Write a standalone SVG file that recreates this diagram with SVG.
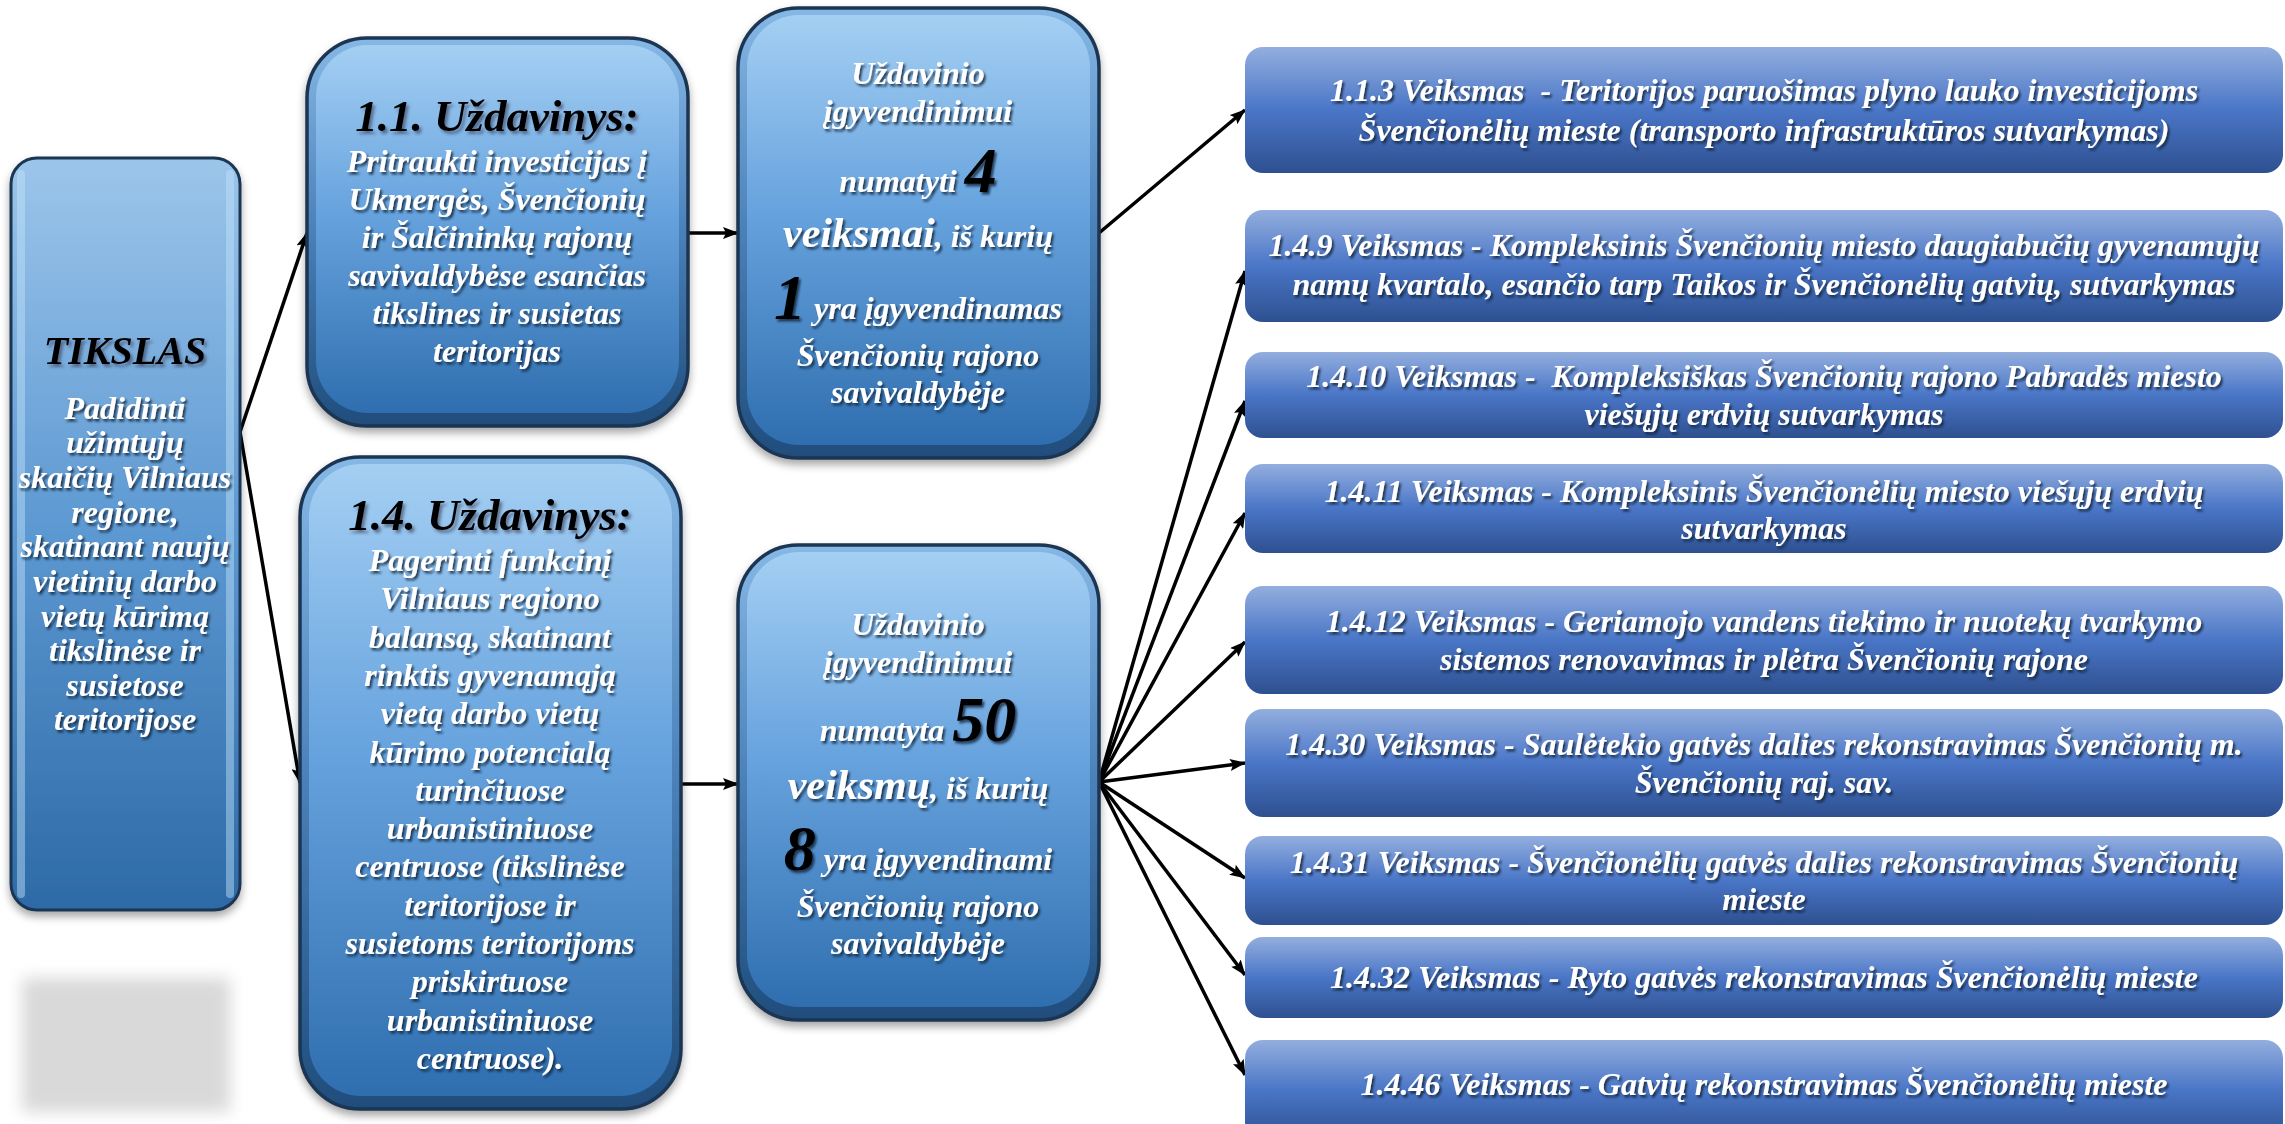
<svg xmlns="http://www.w3.org/2000/svg" width="2285" height="1124" viewBox="0 0 2285 1124">
<style>
text{font-family:"Liberation Serif","Times New Roman",serif;font-weight:bold;font-style:italic;text-anchor:middle}
.w{fill:#fff}
.k{fill:#000}
.b{font-size:32px}
.t{font-size:45px}
.big{font-size:64px}
.mid{font-size:42px}
.r text{fill:#fff;font-size:32px}
.conn line{stroke:#000;stroke-width:3.5;marker-end:url(#ah)}
.edge{fill:url(#bevel);stroke:#1c3652;stroke-width:3.5}
.face{fill:url(#face)}
.act{fill:url(#actg)}
</style>
<defs>
<linearGradient id="face" x1="0" y1="0" x2="0" y2="1">
<stop offset="0" stop-color="#a4cff3"/>
<stop offset="0.45" stop-color="#67a3de"/>
<stop offset="1" stop-color="#2f6eaf"/>
</linearGradient>
<linearGradient id="bevel" x1="0" y1="0" x2="0" y2="1">
<stop offset="0" stop-color="#86b8e6"/>
<stop offset="0.5" stop-color="#4a80b8"/>
<stop offset="1" stop-color="#1f4d7c"/>
</linearGradient>
<linearGradient id="faceT" x1="0" y1="0" x2="0" y2="1">
<stop offset="0" stop-color="#9cc5ea"/>
<stop offset="0.5" stop-color="#5c98d2"/>
<stop offset="1" stop-color="#2d6aa6"/>
</linearGradient>
<linearGradient id="actg" x1="0" y1="0" x2="0" y2="1">
<stop offset="0" stop-color="#93aede"/>
<stop offset="0.5" stop-color="#4a76c7"/>
<stop offset="1" stop-color="#2e5090"/>
</linearGradient>
<filter id="ts" x="-10%" y="-10%" width="120%" height="130%">
<feDropShadow dx="2" dy="2.5" stdDeviation="1.2" flood-color="#0d2035" flood-opacity="0.8"/>
</filter>
<filter id="tsk" x="-10%" y="-10%" width="120%" height="130%">
<feDropShadow dx="2.5" dy="3" stdDeviation="1.5" flood-color="#334" flood-opacity="0.55"/>
</filter>
<filter id="bs" x="-10%" y="-10%" width="120%" height="125%">
<feDropShadow dx="0" dy="5" stdDeviation="4" flood-color="#000" flood-opacity="0.35"/>
</filter>
<filter id="blur" x="-30%" y="-30%" width="160%" height="160%">
<feGaussianBlur stdDeviation="8"/>
</filter>
<marker id="ah" viewBox="0 0 16 12" refX="15" refY="6" markerWidth="16" markerHeight="12" markerUnits="userSpaceOnUse" orient="auto">
<path d="M0,0 L16,6 L0,12 L3,6 z" fill="#000"/>
</marker>
</defs>
<rect width="2285" height="1124" fill="#fff"/>

<g id="connectors" class="conn">
<line x1="240" y1="432" x2="307" y2="233"/>
<line x1="240" y1="432" x2="300" y2="783"/>
<line x1="688" y1="233" x2="738" y2="233"/>
<line x1="681" y1="784" x2="738" y2="784"/>
<line x1="1099" y1="233" x2="1245" y2="110"/>
<line x1="1099" y1="782" x2="1245" y2="271"/>
<line x1="1099" y1="782" x2="1245" y2="401"/>
<line x1="1099" y1="782" x2="1245" y2="513"/>
<line x1="1099" y1="782" x2="1245" y2="642"/>
<line x1="1099" y1="782" x2="1245" y2="763"/>
<line x1="1099" y1="782" x2="1245" y2="878"/>
<line x1="1099" y1="782" x2="1245" y2="975"/>
<line x1="1099" y1="782" x2="1245" y2="1075"/>
</g>

<g id="gray-box">
<rect x="22" y="978" width="208" height="134" fill="#d9d9d9" filter="url(#blur)"/>
</g>

<g id="tikslas">
<rect x="11" y="158" width="229" height="752" rx="26" fill="url(#faceT)" stroke="#1c3652" stroke-width="3" filter="url(#bs)"/>
<rect x="17" y="170" width="8" height="728" rx="4" fill="#c4e4fb" opacity="0.45"/>
<rect x="226" y="170" width="8" height="728" rx="4" fill="#c4e4fb" opacity="0.45"/>
<text x="125" y="364" class="k" style="font-size:40px" filter="url(#tsk)">TIKSLAS</text>
<g filter="url(#ts)">
<text x="125" y="419" class="w b">Padidinti</text>
<text x="125" y="453" class="w b">užimtųjų</text>
<text x="125" y="488" class="w b">skaičių Vilniaus</text>
<text x="125" y="523" class="w b">regione,</text>
<text x="125" y="557" class="w b">skatinant naujų</text>
<text x="125" y="592" class="w b">vietinių darbo</text>
<text x="125" y="627" class="w b">vietų kūrimą</text>
<text x="125" y="661" class="w b">tikslinėse ir</text>
<text x="125" y="696" class="w b">susietose</text>
<text x="125" y="730" class="w b">teritorijose</text>
</g>
</g>

<g id="task-1-1">
<rect x="307" y="38" width="381" height="388" rx="60" class="edge" filter="url(#bs)"/>
<rect x="316" y="45" width="363" height="368" rx="52" class="face"/>
<text x="497" y="131" class="k t" filter="url(#tsk)">1.1. Uždavinys:</text>
<g filter="url(#ts)">
<text x="497" y="172" class="w b">Pritraukti investicijas į</text>
<text x="497" y="210" class="w b">Ukmergės, Švenčionių</text>
<text x="497" y="248" class="w b">ir Šalčininkų rajonų</text>
<text x="497" y="286" class="w b">savivaldybėse esančias</text>
<text x="497" y="324" class="w b">tikslines ir susietas</text>
<text x="497" y="362" class="w b">teritorijas</text>
</g>
</g>

<g id="task-1-4">
<rect x="300" y="457" width="381" height="652" rx="60" class="edge" filter="url(#bs)"/>
<rect x="309" y="464" width="363" height="632" rx="52" class="face"/>
<text x="490" y="530" class="k t" filter="url(#tsk)">1.4. Uždavinys:</text>
<g filter="url(#ts)">
<text x="490" y="571" class="w b">Pagerinti funkcinį</text>
<text x="490" y="609" class="w b">Vilniaus regiono</text>
<text x="490" y="648" class="w b">balansą, skatinant</text>
<text x="490" y="686" class="w b">rinktis gyvenamąją</text>
<text x="490" y="724" class="w b">vietą darbo vietų</text>
<text x="490" y="763" class="w b">kūrimo potencialą</text>
<text x="490" y="801" class="w b">turinčiuose</text>
<text x="490" y="839" class="w b">urbanistiniuose</text>
<text x="490" y="877" class="w b">centruose (tikslinėse</text>
<text x="490" y="916" class="w b">teritorijose ir</text>
<text x="490" y="954" class="w b">susietoms teritorijoms</text>
<text x="490" y="992" class="w b">priskirtuose</text>
<text x="490" y="1031" class="w b">urbanistiniuose</text>
<text x="490" y="1069" class="w b">centruose).</text>
</g>
</g>

<g id="count-1-1">
<rect x="738" y="8" width="361" height="450" rx="60" class="edge" filter="url(#bs)"/>
<rect x="747" y="15" width="343" height="430" rx="52" class="face"/>
<g filter="url(#ts)">
<text x="918" y="84" class="w b">Uždavinio</text>
<text x="918" y="122" class="w b">įgyvendinimui</text>
<text x="918" y="192" class="w b">numatyti <tspan class="k big">4</tspan></text>
<text x="918" y="247" class="w b"><tspan class="mid">veiksmai</tspan>, iš kurių</text>
<text x="918" y="319" class="w b"><tspan class="k big">1</tspan> yra įgyvendinamas</text>
<text x="918" y="366" class="w b">Švenčionių rajono</text>
<text x="918" y="403" class="w b">savivaldybėje</text>
</g>
</g>

<g id="count-1-4">
<rect x="738" y="545" width="361" height="475" rx="60" class="edge" filter="url(#bs)"/>
<rect x="747" y="552" width="343" height="455" rx="52" class="face"/>
<g filter="url(#ts)">
<text x="918" y="635" class="w b">Uždavinio</text>
<text x="918" y="673" class="w b">įgyvendinimui</text>
<text x="918" y="741" class="w b">numatyta <tspan class="k big">50</tspan></text>
<text x="918" y="799" class="w b"><tspan class="mid">veiksmų</tspan>, iš kurių</text>
<text x="918" y="870" class="w b"><tspan class="k big">8</tspan> yra įgyvendinami</text>
<text x="918" y="917" class="w b">Švenčionių rajono</text>
<text x="918" y="954" class="w b">savivaldybėje</text>
</g>
</g>

<g id="action-1-1-3" class="r">
<rect x="1245" y="47" width="1038" height="126" rx="18" class="act"/>
<g filter="url(#ts)">
<text x="1764" y="101" xml:space="preserve">1.1.3 Veiksmas  - Teritorijos paruošimas plyno lauko investicijoms</text>
<text x="1764" y="141">Švenčionėlių mieste (transporto infrastruktūros sutvarkymas)</text>
</g>
</g>

<g id="action-1-4-9" class="r">
<rect x="1245" y="210" width="1038" height="112" rx="18" class="act"/>
<g filter="url(#ts)">
<text x="1764" y="256">1.4.9 Veiksmas - Kompleksinis Švenčionių miesto daugiabučių gyvenamųjų</text>
<text x="1764" y="295">namų kvartalo, esančio tarp Taikos ir Švenčionėlių gatvių, sutvarkymas</text>
</g>
</g>

<g id="action-1-4-10" class="r">
<rect x="1245" y="352" width="1038" height="86" rx="18" class="act"/>
<g filter="url(#ts)">
<text x="1764" y="387" xml:space="preserve">1.4.10 Veiksmas -  Kompleksiškas Švenčionių rajono Pabradės miesto</text>
<text x="1764" y="425">viešųjų erdvių sutvarkymas</text>
</g>
</g>

<g id="action-1-4-11" class="r">
<rect x="1245" y="464" width="1038" height="89" rx="18" class="act"/>
<g filter="url(#ts)">
<text x="1764" y="502">1.4.11 Veiksmas - Kompleksinis Švenčionėlių miesto viešųjų erdvių</text>
<text x="1764" y="539">sutvarkymas</text>
</g>
</g>

<g id="action-1-4-12" class="r">
<rect x="1245" y="586" width="1038" height="108" rx="18" class="act"/>
<g filter="url(#ts)">
<text x="1764" y="632">1.4.12 Veiksmas - Geriamojo vandens tiekimo ir nuotekų tvarkymo</text>
<text x="1764" y="670">sistemos renovavimas ir plėtra Švenčionių rajone</text>
</g>
</g>

<g id="action-1-4-30" class="r">
<rect x="1245" y="709" width="1038" height="108" rx="18" class="act"/>
<g filter="url(#ts)">
<text x="1764" y="755">1.4.30 Veiksmas - Saulėtekio gatvės dalies rekonstravimas Švenčionių m.</text>
<text x="1764" y="793">Švenčionių raj. sav.</text>
</g>
</g>

<g id="action-1-4-31" class="r">
<rect x="1245" y="836" width="1038" height="89" rx="18" class="act"/>
<g filter="url(#ts)">
<text x="1764" y="873">1.4.31 Veiksmas - Švenčionėlių gatvės dalies rekonstravimas Švenčionių</text>
<text x="1764" y="910">mieste</text>
</g>
</g>

<g id="action-1-4-32" class="r">
<rect x="1245" y="937" width="1038" height="81" rx="18" class="act"/>
<g filter="url(#ts)">
<text x="1764" y="988">1.4.32 Veiksmas - Ryto gatvės rekonstravimas Švenčionėlių mieste</text>
</g>
</g>

<g id="action-1-4-46" class="r">
<rect x="1245" y="1040" width="1038" height="100" rx="18" class="act"/>
<g filter="url(#ts)">
<text x="1764" y="1095">1.4.46 Veiksmas - Gatvių rekonstravimas Švenčionėlių mieste</text>
</g>
</g>
</svg>
